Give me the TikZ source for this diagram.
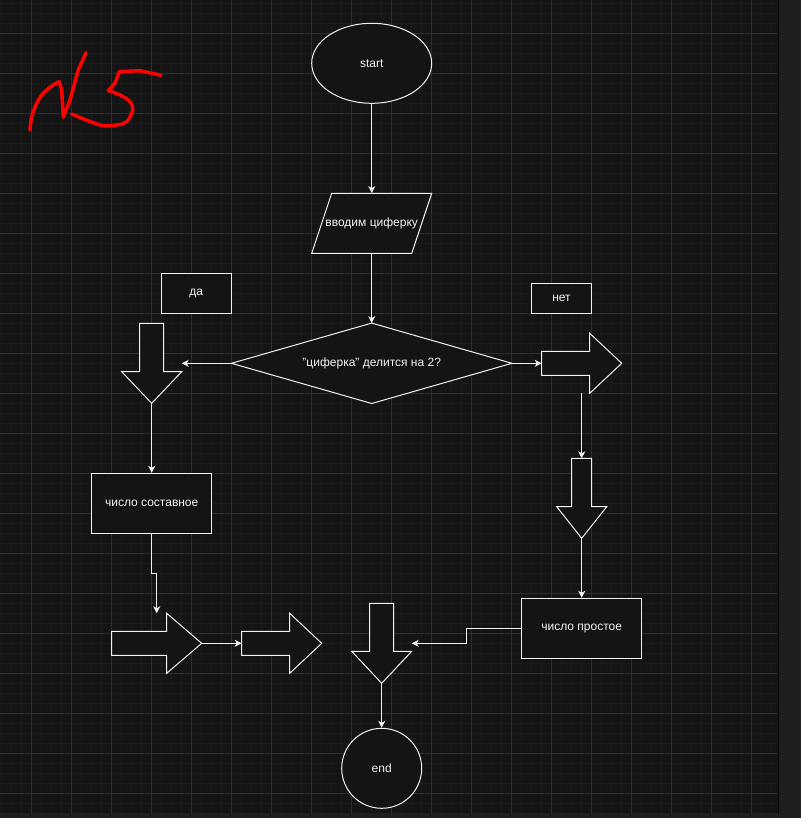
\documentclass[tikz,border=0pt]{standalone}
\usepackage{fontspec}
\setmainfont{Liberation Sans}
\usetikzlibrary{arrows.meta,shapes.geometric}
\definecolor{bg}{HTML}{141414}
\definecolor{panel}{HTML}{1E1F21}
\definecolor{gminor}{HTML}{1A1A1A}
\definecolor{gmajor}{HTML}{2E2E2E}
\definecolor{ink}{HTML}{F2F2F2}
\definecolor{pen}{HTML}{FF0000}
\tikzset{
  shapeline/.style={draw=ink, line width=1pt, line join=miter},
  box/.style={shapeline, fill=bg, inner sep=0pt, text=ink},
  label/.style={inner sep=0pt, text=ink},
  conn/.style={draw=ink, line width=1pt, -{Stealth[length=7pt,width=7pt,inset=2pt]}},
  handwriting/.style={draw=pen, line width=3.5pt, line cap=round, line join=round},
}
\begin{document}
\begin{tikzpicture}[x=1pt,y=-1pt,font=\fontsize{12}{14}\selectfont]
\useasboundingbox (0,0) rectangle (801,818);
\fill[panel] (0,0) rectangle (801,818);
\fill[bg] (0,0) rectangle (778,812.7);
% grid
\foreach \x in {1.7,11.7,...,771.7} \draw[gminor,line width=1pt] (\x,0) -- (\x,812.7);
\foreach \y in {3.3,13.3,...,803.3} \draw[gminor,line width=1pt] (0,\y) -- (778,\y);
\foreach \x in {31.7,71.7,...,751.7} \draw[gmajor,line width=1pt] (\x,0) -- (\x,812.7);
\foreach \y in {33.3,73.3,...,793.3} \draw[gmajor,line width=1pt] (0,\y) -- (778,\y);
\draw[black,line width=1.2pt] (778.6,0) -- (778.6,812.7);

% handwritten "No5"
\draw[handwriting] plot[smooth, tension=0.6] coordinates {(30,130) (31.7,116.7) (36.7,103.3) (43.3,93.3) (53.3,85) (59.3,81.7)}
  -- (61.7,90) -- (63.3,117.3) -- (70,100) -- (78.3,70) -- (86,52.7);
\draw[handwriting] plot[smooth, tension=0.6] coordinates {(71.7,114) (100,125) (116.7,125) (126.7,121.7) (132.7,110) (130,101.7) (120,95) (108.3,90.7)}
  -- (115,83.3) -- (119.3,71.7) -- (140,70.7) -- (161,75.3);

% nodes
\node[box, ellipse, minimum width=120, minimum height=80] (start) at (371.7,63.3) {start};

\fill[bg] (331.7,193.3) -- (431.7,193.3) -- (411.7,253.3) -- (311.7,253.3) -- cycle;
\node[label, minimum width=120, minimum height=60] (para) at (371.7,223.3) {вводим циферку};
\draw[shapeline] (331.7,193.3) -- (431.7,193.3) -- (411.7,253.3) -- (311.7,253.3) -- cycle;

\fill[bg] (371.7,323.3) -- (511.7,363.3) -- (371.7,403.3) -- (231.7,363.3) -- cycle;
\node[label, minimum width=280, minimum height=80] (dec) at (371.7,363.3) {\symbol{34}циферка\symbol{34} делится на 2?};
\draw[shapeline] (dec.north) -- (dec.east) -- (dec.south) -- (dec.west) -- cycle;

\node[box, minimum width=70, minimum height=40] (yes) at (196.3,293.3) {да};
\node[box, minimum width=60, minimum height=30] (no) at (561.5,298.3) {нет};

\node[box, minimum width=120, minimum height=60] (comp) at (151.7,503.3) {число составное};
\node[box, minimum width=120, minimum height=60] (prime) at (581.7,628.3) {число простое};
\node[box, circle, minimum size=80] (end) at (381.7,768.3) {end};

% block arrows
\draw[shapeline, fill=bg] (139.7,323.3) -- (163.7,323.3) -- (163.7,371.7) -- (181.7,371.7) -- (151.7,403.3)
  -- (121.7,371.7) -- (139.7,371.7) -- cycle;
\coordinate (a1tip) at (151.7,403.3);
\coordinate (a1in) at (181.7,363.3);
\draw[shapeline, fill=bg] (541.7,351.3) -- (589.7,351.3) -- (589.7,333.3) -- (621.7,363.3) -- (589.7,393.3)
  -- (589.7,375.3) -- (541.7,375.3) -- cycle;
\coordinate (r1in) at (541.7,363.3);
\coordinate (r1out) at (581.7,393.3);
\draw[shapeline, fill=bg] (571.7,458.3) -- (591.7,458.3) -- (591.7,506.7) -- (606.7,506.7) -- (581.7,538.3)
  -- (556.7,506.7) -- (571.7,506.7) -- cycle;
\coordinate (d2in) at (581.7,458.3);
\coordinate (d2tip) at (581.7,538.3);
\draw[shapeline, fill=bg] (111.7,631.3) -- (166.7,631.3) -- (166.7,613.3) -- (201.7,643.3) -- (166.7,673.3)
  -- (166.7,655.3) -- (111.7,655.3) -- cycle;
\coordinate (r2in) at (156.7,613.3);
\coordinate (r2tip) at (201.7,643.3);
\draw[shapeline, fill=bg] (241.7,631.3) -- (289.7,631.3) -- (289.7,613.3) -- (321.7,643.3) -- (289.7,673.3)
  -- (289.7,655.3) -- (241.7,655.3) -- cycle;
\coordinate (r3in) at (241.7,643.3);
\draw[shapeline, fill=bg] (369.7,603.3) -- (393.7,603.3) -- (393.7,651.3) -- (411.7,651.3) -- (381.7,683.3)
  -- (351.7,651.3) -- (369.7,651.3) -- cycle;
\coordinate (d3in) at (411.7,643.3);
\coordinate (d3tip) at (381.7,683.3);

% connectors
\draw[conn] (start.south) -- (para.north);
\draw[conn] (para.south) -- (dec.north);
\draw[conn] (dec.west) -- (a1in);
\draw[conn] (dec.east) -- (r1in);
\draw[conn] (a1tip) -- (comp.north);
\draw[conn] (comp.south) -- (151.7,573.3) -- (156.7,573.3) -- (r2in);
\draw[conn] (r2tip) -- (r3in);
\draw[conn] (r1out) -- (d2in);
\draw[conn] (d2tip) -- (prime.north);
\draw[conn] (prime.west) -- (466.7,628.3) -- (466.7,643.3) -- (d3in);
\draw[conn] (d3tip) -- (end.north);
\end{tikzpicture}
\end{document}
